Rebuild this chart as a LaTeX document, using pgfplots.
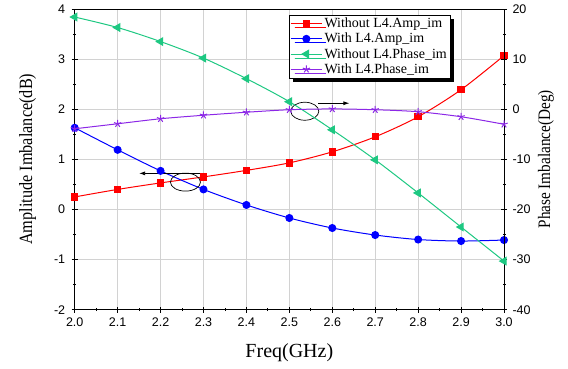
\documentclass[border=0pt]{standalone}
\usepackage{fontspec}
\setmainfont{Liberation Serif}
\setsansfont{Liberation Sans}
\newfontfamily\narrowserif[FakeStretch=0.87]{Liberation Serif}
\usepackage{pgfplots}
\pgfplotsset{compat=1.18}
\usetikzlibrary{shadows,arrows.meta}
\definecolor{cgreen}{RGB}{30,200,130}
\definecolor{cpurple}{RGB}{140,40,230}
\begin{document}
\begin{tikzpicture}
\pgfplotsset{
  common/.style={
    width=429.3pt, height=300.7pt, scale only axis,
    xmin=2, xmax=3,
    tick label style={font=\sffamily\fontsize{12.5}{14}\selectfont},
    /pgf/number format/assume math mode=true,
    tick align=center,
    major tick length=6pt, minor tick length=3pt,
    axis line style={line width=0.9pt},
    every tick/.style={black, line width=0.8pt},
  }
}
\begin{axis}[common, name=ax,
  ymin=-2, ymax=4, ytick={-2,-1,0,1,2,3,4},
  xtick={2,2.1,2.2,2.3,2.4,2.5,2.6,2.7,2.8,2.9,3},
  xticklabel style={yshift=-2pt, /pgf/number format/.cd,fixed,fixed zerofill,precision=1},
  yticklabel style={xshift=-3pt},
  minor x tick num=1, minor y tick num=1,
  xtick pos=bottom, ytick pos=left,
  grid=major, major grid style={gray!35, line width=0.6pt},
  xlabel={Freq(GHz)}, ylabel={Amplitude Imbalance(dB)},
  xlabel style={at={(axis description cs:0.5,0)}, anchor=center, yshift=-43pt, font=\fontsize{20}{22}\selectfont},
  ylabel style={at={(axis description cs:0,0.5)}, anchor=center, yshift=47pt, font=\narrowserif\fontsize{18.7}{21}\selectfont},
]
\addplot[red, line width=1pt, smooth, mark=square*, mark size=3.2pt, mark options={solid}] coordinates {
(2.0,0.25) (2.1,0.40) (2.2,0.53) (2.3,0.65) (2.4,0.78) (2.5,0.93) (2.6,1.15) (2.7,1.45) (2.8,1.85) (2.9,2.39) (3.0,3.07)};
\addplot[blue, line width=1pt, smooth, mark=*, mark size=3.5pt] coordinates {
(2.0,1.63) (2.1,1.19) (2.2,0.77) (2.3,0.40) (2.4,0.09) (2.5,-0.17) (2.6,-0.37) (2.7,-0.51) (2.8,-0.60) (2.9,-0.63) (3.0,-0.61)};
\draw[line width=0.7pt] (axis cs:2.258,0.546) ellipse [x radius=15pt, y radius=9pt];
\draw[line width=0.8pt, -{Latex[length=6pt,width=4pt]}] (axis cs:2.291,0.72) -- (axis cs:2.150,0.72);
\draw[line width=0.7pt] (axis cs:2.536,1.96) ellipse [x radius=14pt, y radius=9pt];
\draw[line width=0.8pt, -{Latex[length=6pt,width=4pt]}] (axis cs:2.567,2.12) -- (axis cs:2.640,2.12);
\end{axis}
\begin{axis}[common,
  ymin=-40, ymax=20, ytick={-40,-30,-20,-10,0,10,20},
  minor y tick num=1,
  hide x axis, axis y line*=right,
  yticklabel style={xshift=2pt},
  ylabel={Phase Imbalance(Deg)},
  ylabel style={at={(axis description cs:1,0.5)}, anchor=center, yshift=-42pt, font=\narrowserif\fontsize{17.5}{20}\selectfont},
  legend style={at={(0.499,0.981)}, anchor=north west, draw=black, line width=0.6pt,
    fill=white, font=\fontsize{14}{16.5}\selectfont, row sep=0pt,
    drop shadow={shadow xshift=4pt, shadow yshift=-4pt, fill=black, opacity=1},
    inner sep=1pt},
  legend cell align=left,
  legend image code/.code={\draw[mark repeat=2,mark phase=2] plot coordinates {(0cm,0cm) (0.55cm,0cm) (1.1cm,0cm)};},
]
\addlegendimage{red, line width=1pt, mark=square*, mark size=3.2pt}
\addlegendentry{Without L4.Amp\_im}
\addlegendimage{blue, line width=1pt, mark=*, mark size=3.5pt}
\addlegendentry{With L4.Amp\_im}
\addplot[cgreen, line width=1pt, smooth, mark=triangle*, mark size=4.3pt, mark options={rotate=90}] coordinates {
(2.0,18.4) (2.1,16.3) (2.2,13.5) (2.3,10.2) (2.4,6.1) (2.5,1.5) (2.6,-4.1) (2.7,-10.1) (2.8,-16.7) (2.9,-23.5) (3.0,-30.3)};
\addlegendentry{Without L4.Phase\_im}
\addplot[cpurple, line width=1pt, smooth, mark=star, mark size=3.8pt, mark options={line width=1pt}] coordinates {
(2.0,-3.9) (2.1,-2.9) (2.2,-1.9) (2.3,-1.2) (2.4,-0.6) (2.5,-0.1) (2.6,0.06) (2.7,-0.1) (2.8,-0.5) (2.9,-1.5) (3.0,-3.0)};
\addlegendentry{With L4.Phase\_im}
\end{axis}
\path (ax.south west) ++(-74.7pt,-59.3pt) rectangle ++(568pt,369pt);
\end{tikzpicture}
\end{document}
